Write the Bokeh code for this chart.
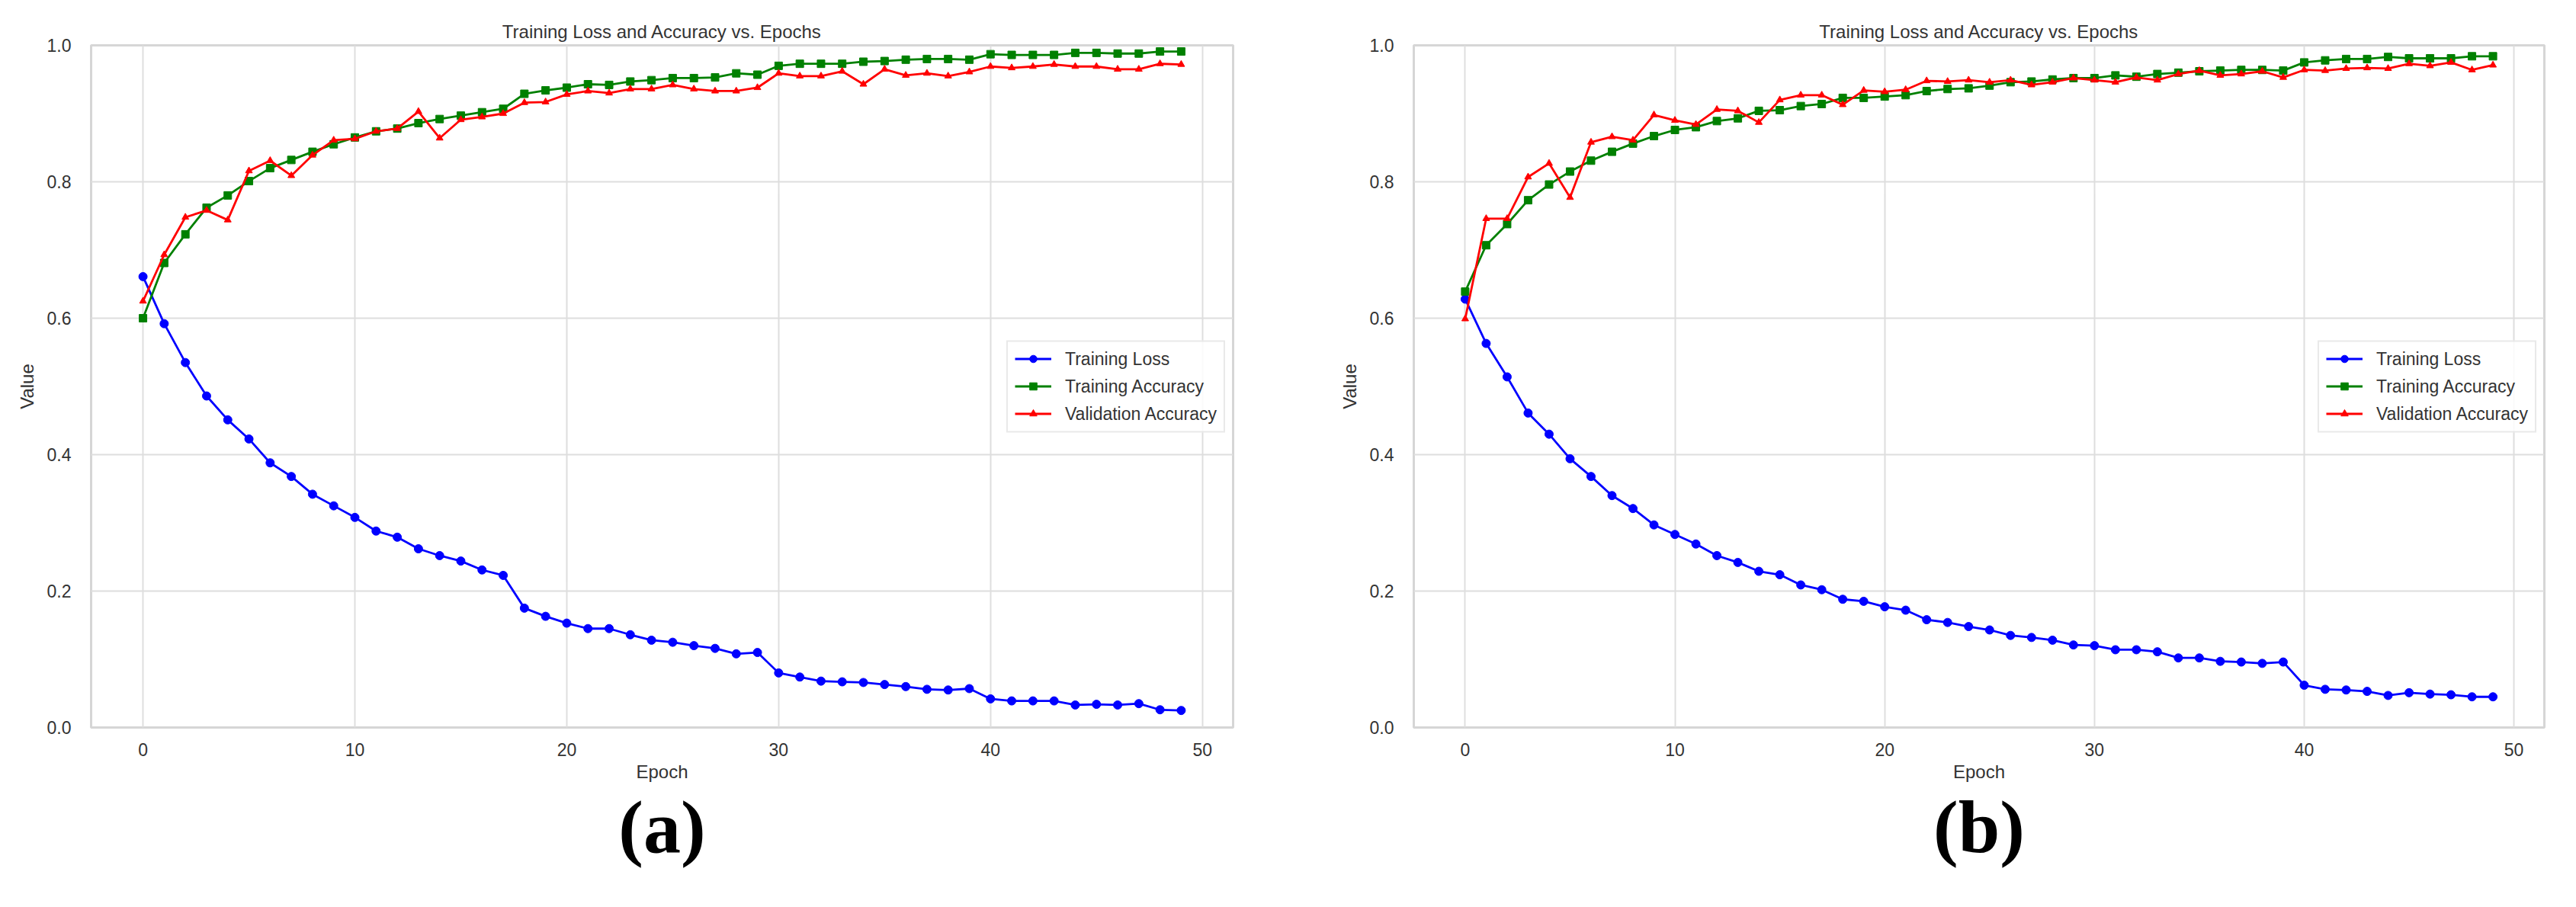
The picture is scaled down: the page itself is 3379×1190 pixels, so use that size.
from bokeh.plotting import figure
from bokeh.layouts import gridplot
from bokeh.models import Range1d, NumeralTickFormatter, Title
from bokeh.embed import file_html
from bokeh.resources import INLINE

epochs = list(range(50))

a_train_loss = [0.661, 0.592, 0.535, 0.486, 0.451, 0.423, 0.388, 0.368, 0.342, 0.325,
                0.308, 0.288, 0.279, 0.262, 0.252, 0.244, 0.231, 0.223, 0.175, 0.163,
                0.153, 0.145, 0.145, 0.136, 0.128, 0.125, 0.120, 0.116, 0.108, 0.110,
                0.080, 0.074, 0.068, 0.067, 0.066, 0.063, 0.060, 0.056, 0.055, 0.057,
                0.042, 0.039, 0.039, 0.039, 0.033, 0.034, 0.033, 0.035, 0.026, 0.025]
a_train_acc = [0.600, 0.681, 0.723, 0.762, 0.780, 0.801, 0.820, 0.832, 0.844, 0.855,
               0.865, 0.874, 0.878, 0.886, 0.892, 0.897, 0.902, 0.907, 0.929, 0.934,
               0.938, 0.943, 0.942, 0.947, 0.949, 0.952, 0.952, 0.953, 0.959, 0.957,
               0.970, 0.973, 0.973, 0.973, 0.976, 0.977, 0.979, 0.980, 0.980, 0.979,
               0.987, 0.986, 0.986, 0.986, 0.989, 0.989, 0.988, 0.988, 0.991, 0.991]
a_val_acc = [0.625, 0.693, 0.748, 0.758, 0.744, 0.816, 0.831, 0.809, 0.839, 0.861,
             0.863, 0.874, 0.878, 0.903, 0.864, 0.891, 0.895, 0.900, 0.916, 0.917,
             0.928, 0.933, 0.930, 0.936, 0.936, 0.942, 0.936, 0.933, 0.933, 0.938,
             0.959, 0.955, 0.955, 0.962, 0.943, 0.965, 0.956, 0.959, 0.955, 0.961,
             0.969, 0.967, 0.969, 0.972, 0.969, 0.969, 0.965, 0.965, 0.973, 0.972]

b_train_loss = [0.628, 0.563, 0.514, 0.461, 0.430, 0.394, 0.368, 0.340, 0.321, 0.297,
                0.283, 0.269, 0.252, 0.242, 0.229, 0.224, 0.209, 0.202, 0.188, 0.185,
                0.177, 0.172, 0.158, 0.154, 0.148, 0.143, 0.135, 0.132, 0.128, 0.121,
                0.120, 0.114, 0.114, 0.111, 0.102, 0.102, 0.097, 0.096, 0.094, 0.096,
                0.062, 0.056, 0.055, 0.053, 0.047, 0.051, 0.049, 0.048, 0.045, 0.045]
b_train_acc = [0.639, 0.707, 0.738, 0.773, 0.796, 0.815, 0.831, 0.844, 0.856, 0.867,
               0.876, 0.880, 0.889, 0.893, 0.904, 0.905, 0.911, 0.914, 0.923, 0.923,
               0.925, 0.927, 0.933, 0.936, 0.937, 0.941, 0.946, 0.947, 0.950, 0.952,
               0.952, 0.956, 0.954, 0.958, 0.960, 0.962, 0.963, 0.964, 0.964, 0.963,
               0.975, 0.978, 0.980, 0.980, 0.983, 0.981, 0.981, 0.981, 0.984, 0.984]
b_val_acc = [0.599, 0.746, 0.746, 0.807, 0.827, 0.777, 0.858, 0.866, 0.861, 0.898,
             0.890, 0.884, 0.906, 0.904, 0.887, 0.920, 0.927, 0.927, 0.913, 0.934,
             0.932, 0.935, 0.948, 0.947, 0.949, 0.946, 0.949, 0.942, 0.946, 0.952,
             0.949, 0.946, 0.953, 0.949, 0.958, 0.963, 0.956, 0.958, 0.962, 0.953,
             0.964, 0.963, 0.966, 0.967, 0.966, 0.973, 0.970, 0.975, 0.964, 0.971]

x_ticks = [0, 10, 20, 30, 40, 50]
y_ticks = [0.0, 0.2, 0.4, 0.6, 0.8, 1.0]

series_names = ["Training Loss", "Training Accuracy", "Validation Accuracy"]
series_colors = ["#0000ff", "#008000", "#ff0000"]
series_markers = ["circle", "square", "triangle"]
marker_sizes = [11, 10, 9]

TITLE = "Training Loss and Accuracy vs. Epochs"
FONT = "Liberation Sans"
TXT = "#333333"


def build(data, border, width, height, sub_label):
    left, right, top, bottom = border
    p = figure(width=width, height=height,
               min_border_left=left, min_border_right=right,
               min_border_top=top, min_border_bottom=bottom,
               x_range=Range1d(-2.45, 51.45), y_range=Range1d(0, 1),
               output_backend="svg", toolbar_location=None)
    p.title.text = TITLE
    p.title.align = "center"
    p.title.text_font = FONT
    p.title.text_font_size = "24px"
    p.title.text_font_style = "normal"
    p.title.text_color = TXT

    p.outline_line_color = "#d6d6d6"
    p.outline_line_width = 3

    p.xaxis.ticker = x_ticks
    p.yaxis.ticker = y_ticks
    p.yaxis.formatter = NumeralTickFormatter(format="0.0")
    for ax in (p.xaxis, p.yaxis):
        ax.axis_line_color = None
        ax.major_tick_line_color = None
        ax.minor_tick_line_color = None
        ax.major_label_text_font = FONT
        ax.major_label_text_font_size = "23px"
        ax.major_label_text_color = TXT
        ax.axis_label_text_font = FONT
        ax.axis_label_text_font_size = "24px"
        ax.axis_label_text_font_style = "normal"
        ax.axis_label_text_color = TXT
    p.xaxis.axis_label = "Epoch"
    p.yaxis.axis_label = "Value"
    p.xaxis.major_label_standoff = 14
    p.yaxis.major_label_standoff = 20
    p.xaxis.axis_label_standoff = 4
    p.yaxis.axis_label_standoff = 10

    p.grid.grid_line_color = "#dedede"
    p.grid.grid_line_width = 2

    for vals, name, col, mk, sz in zip(data, series_names, series_colors,
                                       series_markers, marker_sizes):
        p.line(epochs, vals, line_color=col, line_width=2.8, legend_label=name)
        p.scatter(epochs, vals, marker=mk, size=sz, fill_color=col,
                  line_color=col, legend_label=name)

    lg = p.legend[0]
    lg.location = "center_right"
    lg.margin = 10
    lg.padding = 9
    lg.spacing = 9
    lg.glyph_width = 48
    lg.glyph_height = 24
    lg.label_standoff = 18
    lg.label_text_font = FONT
    lg.label_text_font_size = "23px"
    lg.label_text_color = TXT
    lg.border_line_color = "#d4d4d4"
    lg.border_line_width = 2
    lg.background_fill_color = "white"
    lg.background_fill_alpha = 0.85

    # 98px (not 100px): "bold 100px" breaks the SVG font parser
    sub = Title(text=sub_label, align="center",
                text_font="Liberation Serif", text_font_size="98px",
                text_font_style="bold", text_color="black", standoff=0)
    p.add_layout(sub, "below")
    return p


pa = build([a_train_loss, a_train_acc, a_val_acc], (119, 65, 55, 213),
           1682, 1170, "(a)")
pb = build([b_train_loss, b_train_acc, b_val_acc], (172, 26, 59, 216),
           1681, 1170, "(b)")

grid = gridplot([[pa, pb]], toolbar_location=None)
open("out.html", "w").write(file_html(grid, INLINE))
